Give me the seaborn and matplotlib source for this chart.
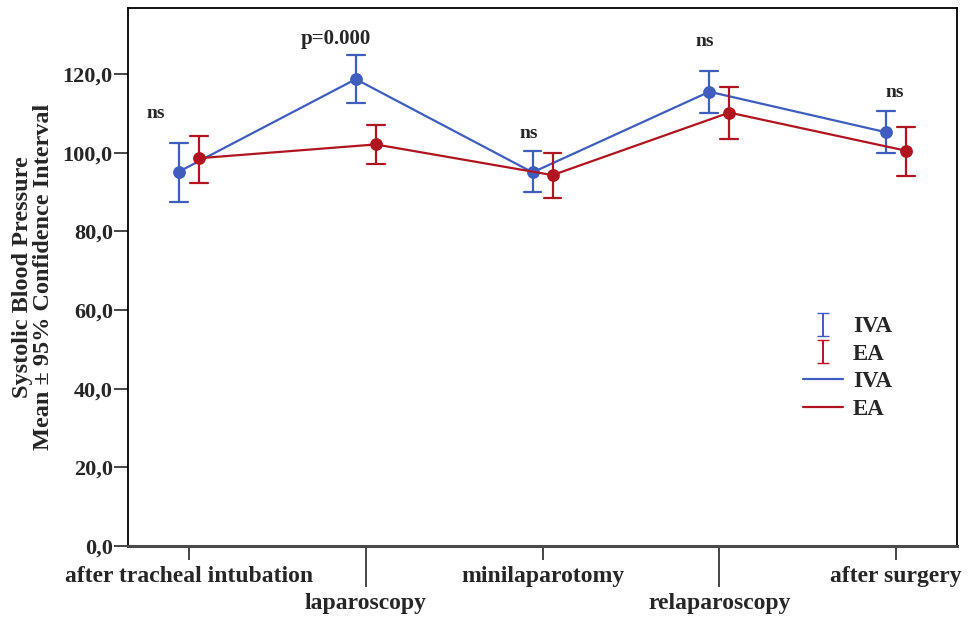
import numpy as np
import pandas as pd
import matplotlib
matplotlib.use("Agg")
import matplotlib.pyplot as plt
import seaborn as sns
from matplotlib.lines import Line2D

categories = ["after tracheal intubation", "laparoscopy", "minilaparotomy",
              "relaparoscopy", "after surgery"]
iva_mean = [95.2, 118.7, 95.0, 115.5, 105.2]
iva_lo = [87.5, 112.7, 89.9, 110.0, 100.0]
iva_hi = [102.4, 124.8, 100.4, 120.8, 110.7]
ea_mean = [98.6, 102.1, 94.3, 110.2, 100.5]
ea_lo = [92.4, 97.1, 88.4, 103.5, 94.2]
ea_hi = [104.2, 107.1, 100.0, 116.8, 106.6]
annot_text = ["ns", "p=0.000", "ns", "ns", "ns"]
annot_y = [110.0, 128.8, 105.0, 128.2, 115.2]
annot_dx = [-0.19, -0.17, -0.08, -0.08, -0.01]
yticks = [0, 20, 40, 60, 80, 100, 120]

blue = "#3F5DBD"
red = "#B0151F"

rows = []
for g, m, lo, hi in [("IVA", iva_mean, iva_lo, iva_hi), ("EA", ea_mean, ea_lo, ea_hi)]:
    for c, a, b, d in zip(categories, m, lo, hi):
        for v in (b, a, d):
            rows.append({"cat": c, "group": g, "value": v})
df = pd.DataFrame(rows)

sns.set_style("ticks")
plt.rcParams["font.family"] = ["Liberation Serif", "DejaVu Serif"]
plt.rcParams["font.weight"] = "bold"

fig = plt.figure(figsize=(9.73, 6.22), dpi=100)
ax = fig.add_axes([0.1316, 0.1222, 0.852, 0.865])

sns.pointplot(data=df, x="cat", y="value", hue="group", order=categories,
              hue_order=["IVA", "EA"], palette=[blue, red],
              estimator=np.median, errorbar=lambda v: (v.min(), v.max()),
              dodge=0.113, capsize=0.1, markersize=8, linewidth=1.6,
              err_kws={"linewidth": 1.6}, ax=ax, legend=False)

ax.set_xlim(-0.345, 4.345)
ax.set_ylim(0, 136.8)
ax.set_yticks(yticks)
ax.set_yticklabels([f"{v:.1f}".replace(".", ",") for v in yticks], fontsize=16, fontweight="bold")
ax.set_xticks(range(len(categories)))
ax.set_xticklabels(categories, fontsize=17, fontweight="bold")
ax.tick_params(axis="y", length=10, width=1.2, pad=1)
ax.tick_params(axis="x", length=10, width=1.2, pad=4.5)
for i, t in enumerate(ax.xaxis.get_major_ticks()):
    if i % 2 == 1:
        t.set_pad(4.5 + 19.5)
        t.tick1line.set_markersize(29.5)
ax.set_xlabel("")
ax.set_ylabel("Systolic Blood Pressure\nMean ± 95% Confidence Interval",
              fontsize=17.5, fontweight="bold", labelpad=6, linespacing=1.0)
for s in ax.spines.values():
    s.set_linewidth(1.3)
    s.set_color("black")
ax.spines["bottom"].set_linewidth(2.2)
ax.spines["bottom"].set_color("#4a4a4a")

for i, (txt, y, dx) in enumerate(zip(annot_text, annot_y, annot_dx)):
    ax.text(i + dx, y, txt, ha="center", va="center",
            fontsize=15 if txt != "ns" else 14, fontweight="bold")

# legend
h1 = ax.errorbar([np.nan], [np.nan], yerr=[[1], [1]], fmt="none", ecolor=blue,
                 capsize=4, elinewidth=1.4, label="IVA")
h2 = ax.errorbar([np.nan], [np.nan], yerr=[[1], [1]], fmt="none", ecolor=red,
                 capsize=4, elinewidth=1.4, label="EA")
h3 = Line2D([], [], color=blue, lw=1.6, label="IVA")
h4 = Line2D([], [], color=red, lw=1.6, label="EA")
leg = ax.legend(handles=[h1, h2, h3, h4], labels=["IVA", "EA", "IVA", "EA"],
                loc="upper left", bbox_to_anchor=(0.789, 0.465), frameon=False,
                prop={"family": "Liberation Serif", "weight": "bold", "size": 16.5},
                handlelength=1.75, labelspacing=0.28, handletextpad=0.45)

fig.savefig("out.png", dpi=100)
